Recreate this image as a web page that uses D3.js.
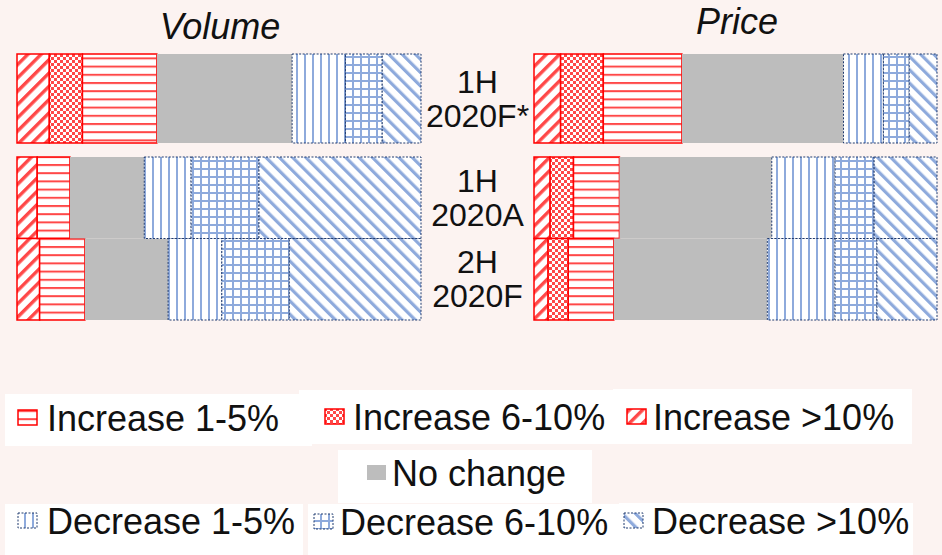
<!DOCTYPE html>
<html>
<head>
<meta charset="utf-8">
<script src="https://cdn.jsdelivr.net/npm/d3@7"></script>
<style>
  body { margin: 0; background: #fcf3f1; }
  text { font-family: Arial, "Liberation Sans", sans-serif; fill: #111; }
</style>
</head>
<body>
<script>
// share of respondents expecting each change (%)
const periods = ["1H 2020F*", "1H 2020A", "2H 2020F"];
const categories = [
  "Increase >10%",
  "Increase 6-10%",
  "Increase 1-5%",
  "No change",
  "Decrease 1-5%",
  "Decrease 6-10%",
  "Decrease >10%"
];
const volumeValues = [
  [8.0, 8.2, 18.4, 33.5, 13.2, 9.1, 9.6],
  [5.0, 0, 8.1, 18.4, 11.6, 16.8, 40.1],
  [5.6, 0, 11.2, 20.6, 13.3, 16.7, 32.6]
];
const priceValues = [
  [6.6, 10.6, 19.5, 40.1, 9.9, 6.4, 6.9],
  [4.0, 5.8, 11.4, 37.8, 15.7, 9.7, 15.6],
  [3.5, 5.0, 11.3, 38.1, 16.8, 10.4, 14.9]
];
const panelTitles = ["Volume", "Price"];
const legendOrder = [
  "Increase 1-5%", "Increase 6-10%", "Increase >10%",
  "No change",
  "Decrease 1-5%", "Decrease 6-10%", "Decrease >10%"
];

var width = 942,
  height = 555;

let svg = d3
  .select("body")
  .append("svg")
  .attr("width", width)
  .attr("height", height);

// ---- patterns
let defs = svg.append("defs");
var red = "#ff4848",
  blue = "#8eaadc";

function stripes(id, angle, color, gap, w) {
  let p = defs
    .append("pattern")
    .attr("id", id)
    .attr("patternUnits", "userSpaceOnUse")
    .attr("width", gap)
    .attr("height", gap)
    .attr("patternTransform", "rotate(" + angle + ")");
  p.append("rect").attr("width", gap).attr("height", gap).attr("fill", "#fff");
  p.append("rect").attr("x", 0).attr("width", w).attr("height", gap).attr("fill", color);
}
stripes("incHi", 45, red, 9.4, 3.4);
stripes("decHi", -45, blue, 9.4, 3.2);
stripes("decLo", 0, blue, 8, 2);
stripes("incLo", 90, red, 8.2, 2);

let chk = defs
  .append("pattern")
  .attr("id", "incMid")
  .attr("patternUnits", "userSpaceOnUse")
  .attr("width", 6)
  .attr("height", 6);
chk.append("rect").attr("width", 6).attr("height", 6).attr("fill", "#fff");
chk.append("rect").attr("width", 3).attr("height", 3).attr("fill", red);
chk.append("rect").attr("x", 3).attr("y", 3).attr("width", 3).attr("height", 3).attr("fill", red);

let grid = defs
  .append("pattern")
  .attr("id", "decMid")
  .attr("patternUnits", "userSpaceOnUse")
  .attr("width", 8)
  .attr("height", 8);
grid.append("rect").attr("width", 8).attr("height", 8).attr("fill", "#fff");
grid.append("rect").attr("width", 2).attr("height", 8).attr("fill", blue);
grid.append("rect").attr("width", 8).attr("height", 2).attr("fill", blue);

const fills = d3
  .scaleOrdinal()
  .domain(categories)
  .range(["url(#incHi)", "url(#incMid)", "url(#incLo)", "#bdbdbd", "url(#decLo)", "url(#decMid)", "url(#decHi)"]);

function styleSeg(sel, key) {
  if (key.startsWith("Increase")) {
    sel.attr("stroke", "#ff0000").attr("stroke-width", 1.5);
  } else if (key.startsWith("Decrease")) {
    sel.attr("stroke", "#1f3a6e").attr("stroke-width", 1).attr("stroke-dasharray", "2,1.5");
  } else {
    sel.attr("stroke", "none");
  }
}

// ---- scales
let xVol = d3.scaleLinear().domain([0, 100]).range([17, 421]);
let xPrice = d3.scaleLinear().domain([0, 100]).range([534, 937]);

// forecast row stands apart, the two half-year rows touch
let yTop = d3.scaleBand().domain(periods.slice(0, 1)).range([54, 143]);
let yBottom = d3.scaleBand().domain(periods.slice(1)).range([157, 320]).paddingInner(0);
function yPos(p) {
  return yTop.domain().includes(p) ? yTop(p) : yBottom(p);
}
function yBand(p) {
  return yTop.domain().includes(p) ? yTop.bandwidth() : yBottom.bandwidth();
}

function drawPanel(values, x) {
  let table = periods.map((p, i) => {
    let row = { period: p };
    categories.forEach((c, j) => (row[c] = values[i][j]));
    return row;
  });
  let series = d3.stack().keys(categories)(table);

  let g = svg.append("g");
  series.forEach((s) => {
    let seg = g
      .append("g")
      .selectAll("rect")
      .data(s.filter((d) => d[1] - d[0] > 0))
      .enter()
      .append("rect")
      .attr("x", (d) => x(d[0]))
      .attr("y", (d) => yPos(d.data.period))
      .attr("width", (d) => x(d[1]) - x(d[0]))
      .attr("height", (d) => yBand(d.data.period))
      .attr("fill", fills(s.key));
    styleSeg(seg, s.key);
  });
}
drawPanel(volumeValues, xVol);
drawPanel(priceValues, xPrice);

// titles
svg
  .selectAll(".title")
  .data(panelTitles)
  .enter()
  .append("text")
  .attr("class", "title")
  .attr("x", (d, i) => (i === 0 ? 220 : 737))
  .attr("y", (d, i) => (i === 0 ? 39 : 34))
  .attr("text-anchor", "middle")
  .style("font-size", "36px")
  .style("font-style", "italic")
  .text((d) => d);

// row labels
let lab = svg
  .selectAll(".rowlab")
  .data(periods)
  .enter()
  .append("text")
  .attr("class", "rowlab")
  .attr("text-anchor", "middle")
  .style("font-size", "32px");
lab
  .append("tspan")
  .attr("x", 477.5)
  .attr("y", (d) => yPos(d) + yBand(d) / 2 - 6)
  .text((d) => d.split(" ")[0]);
lab
  .append("tspan")
  .attr("x", 477.5)
  .attr("y", (d) => yPos(d) + yBand(d) / 2 + 28)
  .text((d) => d.split(" ")[1]);

// legend: white boxes as in the slide
var legendLayout = [
  { bx: 5, by: 394, bw: 307, bh: 52, ix: 18, tx: 47, ty: 431 },
  { bx: 299, by: 390, bw: 314, bh: 54, ix: 325, tx: 353, ty: 430 },
  { bx: 613, by: 389, bw: 299, bh: 55, ix: 627, tx: 653, ty: 430 },
  { bx: 338, by: 450, bw: 254, bh: 53, ix: 367, tx: 392, ty: 486 },
  { bx: 5, by: 504, bw: 298, bh: 51, ix: 18, tx: 47, ty: 534 },
  { bx: 308, by: 504, bw: 311, bh: 51, ix: 314, tx: 340, ty: 535 },
  { bx: 619, by: 503, bw: 294, bh: 52, ix: 624, tx: 652, ty: 534 }
];

let leg = svg
  .append("g")
  .selectAll("g")
  .data(legendOrder)
  .enter()
  .append("g");
leg
  .append("rect")
  .attr("x", (d, i) => legendLayout[i].bx)
  .attr("y", (d, i) => legendLayout[i].by)
  .attr("width", (d, i) => legendLayout[i].bw)
  .attr("height", (d, i) => legendLayout[i].bh)
  .attr("fill", "#fff");
leg.each(function (d, i) {
  let L = legendLayout[i];
  let r = d3
    .select(this)
    .append("rect")
    .attr("x", L.ix)
    .attr("y", L.ty - 21)
    .attr("width", 19)
    .attr("height", 15)
    .attr("fill", fills(d));
  styleSeg(r, d);
});
leg
  .append("text")
  .attr("x", (d, i) => legendLayout[i].tx)
  .attr("y", (d, i) => legendLayout[i].ty)
  .style("font-size", "36px")
  .text((d) => d);
</script>
</body>
</html>
